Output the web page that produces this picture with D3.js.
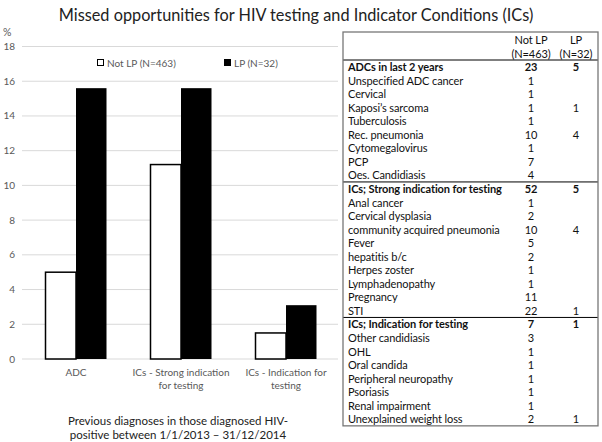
<!DOCTYPE html>
<html>
<head>
<meta charset="utf-8">
<script src="https://cdn.jsdelivr.net/npm/d3@7"></script>
<style>
  body { margin: 0; background: #fff; }
  svg { font-family: Lato, "Open Sans", sans-serif; }
</style>
</head>
<body>
<div id="chart"></div>
<script>
// bar chart data
let categories = ["ADC", "ICs - Strong indication for testing", "ICs - Indication for testing"];
let catLines = [["ADC"], ["ICs - Strong indication", "for testing"], ["ICs - Indication for", "testing"]];
let seriesNames = ["Not LP (N=463)", "LP (N=32)"];
let notLP = [5.0, 11.2, 1.5];
let lp = [15.6, 15.6, 3.1];
let yTicks = [0, 2, 4, 6, 8, 10, 12, 14, 16, 18];

// table data
let tableHead = [["Not LP", "LP"], ["(N=463)", "(N=32)"]];
let tableSections = [
  { name: "ADCs in last 2 years", notLP: "23", lp: "5", rows: [
    ["Unspecified ADC cancer", "1", ""],
    ["Cervical", "1", ""],
    ["Kaposi\u2019s sarcoma", "1", "1"],
    ["Tuberculosis", "1", ""],
    ["Rec. pneumonia", "10", "4"],
    ["Cytomegalovirus", "1", ""],
    ["PCP", "7", ""],
    ["Oes. Candidiasis", "4", ""]
  ]},
  { name: "ICs; Strong indication for testing", notLP: "52", lp: "5", rows: [
    ["Anal cancer", "1", ""],
    ["Cervical dysplasia", "2", ""],
    ["community acquired pneumonia", "10", "4"],
    ["Fever", "5", ""],
    ["hepatitis b/c", "2", ""],
    ["Herpes zoster", "1", ""],
    ["Lymphadenopathy", "1", ""],
    ["Pregnancy", "11", ""],
    ["STI", "22", "1"]
  ]},
  { name: "ICs; Indication for testing", notLP: "7", lp: "1", rows: [
    ["Other candidiasis", "3", ""],
    ["OHL", "1", ""],
    ["Oral candida", "1", ""],
    ["Peripheral neuropathy", "1", ""],
    ["Psoriasis", "1", ""],
    ["Renal impairment", "1", ""],
    ["Unexplained weight loss", "2", "1"]
  ]}
];

let width = 602, height = 442;
const svg = d3.select("#chart").append("svg")
  .attr("width", width).attr("height", height);

svg.append("text")
  .attr("x", 296).attr("y", 21)
  .attr("text-anchor", "middle")
  .attr("font-size", 16.3)
  .attr("fill", "#222")
  .text("Missed opportunities for HIV testing and Indicator Conditions (ICs)");

// ---- bar chart ----
let x = d3.scaleBand().domain(categories).range([23.5, 338.5]);
let y = d3.scaleLinear().domain([0, 18]).range([359, 46.5]);
let barW = 30.5;

svg.append("g").selectAll("line").data(yTicks).enter().append("line")
  .attr("x1", 22).attr("x2", 338)
  .attr("y1", d => y(d)).attr("y2", d => y(d))
  .attr("stroke", "#d9d9d9").attr("stroke-width", 1);

svg.append("g").selectAll("text").data(yTicks).enter().append("text")
  .attr("x", 15).attr("y", d => y(d) + 3.5)
  .attr("text-anchor", "end")
  .attr("font-size", 10).attr("fill", "#595959")
  .text(d => d);

svg.append("text").attr("x", 3).attr("y", 36)
  .attr("font-size", 10.5).attr("fill", "#595959").text("%");

const groups = svg.append("g").selectAll("g").data(categories).enter().append("g")
  .attr("transform", d => `translate(${x(d) + x.bandwidth() / 2} 0)`);

groups.append("rect")
  .attr("x", -barW).attr("width", barW)
  .attr("y", (d, i) => y(notLP[i])).attr("height", (d, i) => y(0) - y(notLP[i]))
  .attr("fill", "#fff").attr("stroke", "#000").attr("stroke-width", 1.5);

groups.append("rect")
  .attr("x", 0).attr("width", barW)
  .attr("y", (d, i) => y(lp[i])).attr("height", (d, i) => y(0) - y(lp[i]))
  .attr("fill", "#000");

groups.each(function (d, i) {
  d3.select(this).selectAll("text.cat").data(catLines[i]).enter().append("text")
    .attr("class", "cat")
    .attr("y", (t, j) => 376 + j * 12.5)
    .attr("text-anchor", "middle")
    .attr("font-size", 10).attr("fill", "#595959")
    .text(t => t);
});

// legend
let legX = [97, 224];
seriesNames.forEach((s, i) => {
  svg.append("rect")
    .attr("x", legX[i] + 0.5).attr("y", 59.5).attr("width", 6).attr("height", 6)
    .attr("fill", i ? "#000" : "#fff").attr("stroke", "#000").attr("stroke-width", 1);
  svg.append("text")
    .attr("x", legX[i] + 10).attr("y", 66.5)
    .attr("font-size", 10).attr("fill", "#595959")
    .text(s);
});

svg.append("g").selectAll("text")
  .data(["Previous diagnoses in those diagnosed HIV-", "positive between 1/1/2013 \u2013 31/12/2014"])
  .enter().append("text")
  .attr("x", 178).attr("y", (d, i) => 425 + i * 14)
  .attr("text-anchor", "middle")
  .attr("font-size", 11.5).attr("fill", "#222")
  .text(d => d);

// ---- table ----
let tLeft = 343, tRight = 598, tTop = 32, headBottom = 60, rowH = 13.55;
let colNot = 531, colLp = 576;
let rows = [];
tableSections.forEach(s => {
  rows.push({ label: s.name, a: s.notLP, b: s.lp, bold: true });
  s.rows.forEach(r => rows.push({ label: r[0], a: r[1], b: r[2], bold: false }));
});
let tBottom = headBottom + rows.length * rowH;

const tbl = svg.append("g").attr("font-size", 11).attr("fill", "#111")
  .attr("letter-spacing", -0.1);

tableHead.forEach((h, i) => {
  tbl.append("text").attr("x", colNot).attr("y", 44 + i * 13.5)
    .attr("text-anchor", "middle").text(h[0]);
  tbl.append("text").attr("x", colLp).attr("y", 44 + i * 13.5)
    .attr("text-anchor", "middle").text(h[1]);
});

tbl.selectAll("g.row").data(rows).enter().append("g")
  .attr("class", "row")
  .attr("transform", (d, i) => `translate(0 ${headBottom + i * rowH})`)
  .attr("font-weight", d => d.bold ? "bold" : "normal")
  .each(function (d) {
    const g = d3.select(this);
    g.append("text").attr("x", tLeft + 5).attr("y", 11).text(d.label);
    g.append("text").attr("x", colNot).attr("y", 11).attr("text-anchor", "middle").text(d.a);
    g.append("text").attr("x", colLp).attr("y", 11).attr("text-anchor", "middle").text(d.b);
  });

// section separators
let sepIdx = [];
let acc = 0;
tableSections.forEach(s => { sepIdx.push(acc); acc += s.rows.length + 1; });
tbl.selectAll("line.sep").data(sepIdx).enter().append("line")
  .attr("x1", tLeft).attr("x2", tRight)
  .attr("y1", d => headBottom + d * rowH).attr("y2", d => headBottom + d * rowH)
  .attr("stroke", "#000").attr("stroke-width", 1);

tbl.append("rect")
  .attr("x", tLeft).attr("y", tTop)
  .attr("width", tRight - tLeft).attr("height", tBottom - tTop)
  .attr("fill", "none").attr("stroke", "#777").attr("stroke-width", 1.3);
</script>
</body>
</html>
